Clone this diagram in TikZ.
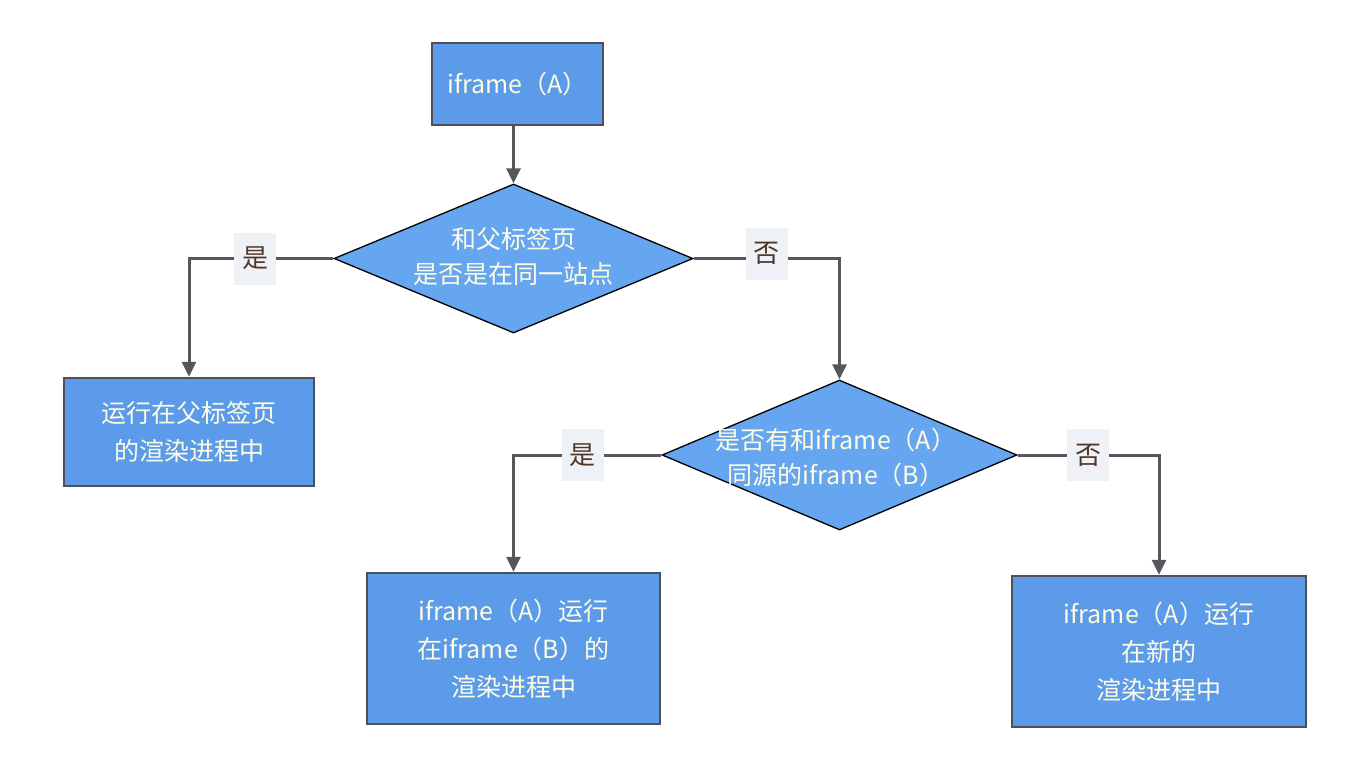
\documentclass[tikz,border=0pt]{standalone}
\usepackage{fontspec}
\setmainfont{Noto Sans CJK SC}[AutoFakeBold=1.2]
\usetikzlibrary{shapes.geometric,arrows.meta}
\definecolor{boxblue}{RGB}{92,155,233}
\definecolor{diablue}{RGB}{102,165,240}
\definecolor{edge}{RGB}{78,80,86}
\definecolor{linec}{RGB}{85,87,92}
\definecolor{txt}{RGB}{255,252,228}
\definecolor{lblbg}{RGB}{238,242,247}
\definecolor{lbltxt}{RGB}{80,55,40}
\tikzset{
  procbox/.style={draw=edge, line width=2.5pt, fill=boxblue, rectangle, inner sep=0pt,
    text=txt, align=center, font=\fontsize{25}{38}\selectfont},
  decide/.style={draw=black, line width=1.3pt, fill=diablue, diamond, inner sep=0pt},
  dtext/.style={text=txt, align=center, font=\fontsize{25}{35}\selectfont},
  arr/.style={draw=linec, line width=3pt, -{Triangle[length=15pt,width=14pt]}},
  lbl/.style={fill=lblbg, text=lbltxt, minimum width=42pt, minimum height=52pt, inner sep=0pt,
    font=\fontsize{26}{28}\selectfont}
}
\begin{document}
\begin{tikzpicture}[x=1pt,y=-1pt]
\useasboundingbox (0,0) rectangle (1370,758);
\node[procbox, minimum width=171pt, minimum height=82pt] (start) at (517.5,84) {iframe（A）};
\node[decide, minimum width=359pt, minimum height=149pt] (d1) at (513.5,258.5) {};
\node[dtext] (d1t) at (513.5,256) {和父标签页\\是否是在同一站点};
\node[procbox, minimum width=250pt, minimum height=108pt] (b1) at (189,432) {运行在父标签页\\的渲染进程中};
\node[decide, minimum width=355pt, minimum height=150pt] (d2) at (839.5,455) {};
\node[dtext] (d2t) at (836,457) {是否有和iframe（A）\\同源的iframe（B）};
\node[procbox, minimum width=293pt, minimum height=151pt] (b2) at (513.5,648.5) {iframe（A）运行\\在iframe（B）的\\渲染进程中};
\node[procbox, minimum width=294pt, minimum height=151pt] (b3) at (1159,651.5) {iframe（A）运行\\在新的\\渲染进程中};
\draw[arr] (d1.north |- start.south) -- (d1.north);
\draw[arr] (d1.west) -| node[lbl, pos=0.27] (l1) {是} (b1.north);
\draw[arr] (d1.east) -| node[lbl, pos=0.25, yshift=5pt] (l2) {否} (d2.north);
\draw[arr] (d2.west) -| node[lbl, pos=0.265] (l3) {是} (b2.north);
\draw[arr] (d2.east) -| node[lbl, pos=0.25] (l4) {否} (b3.north);
\end{tikzpicture}
\end{document}
